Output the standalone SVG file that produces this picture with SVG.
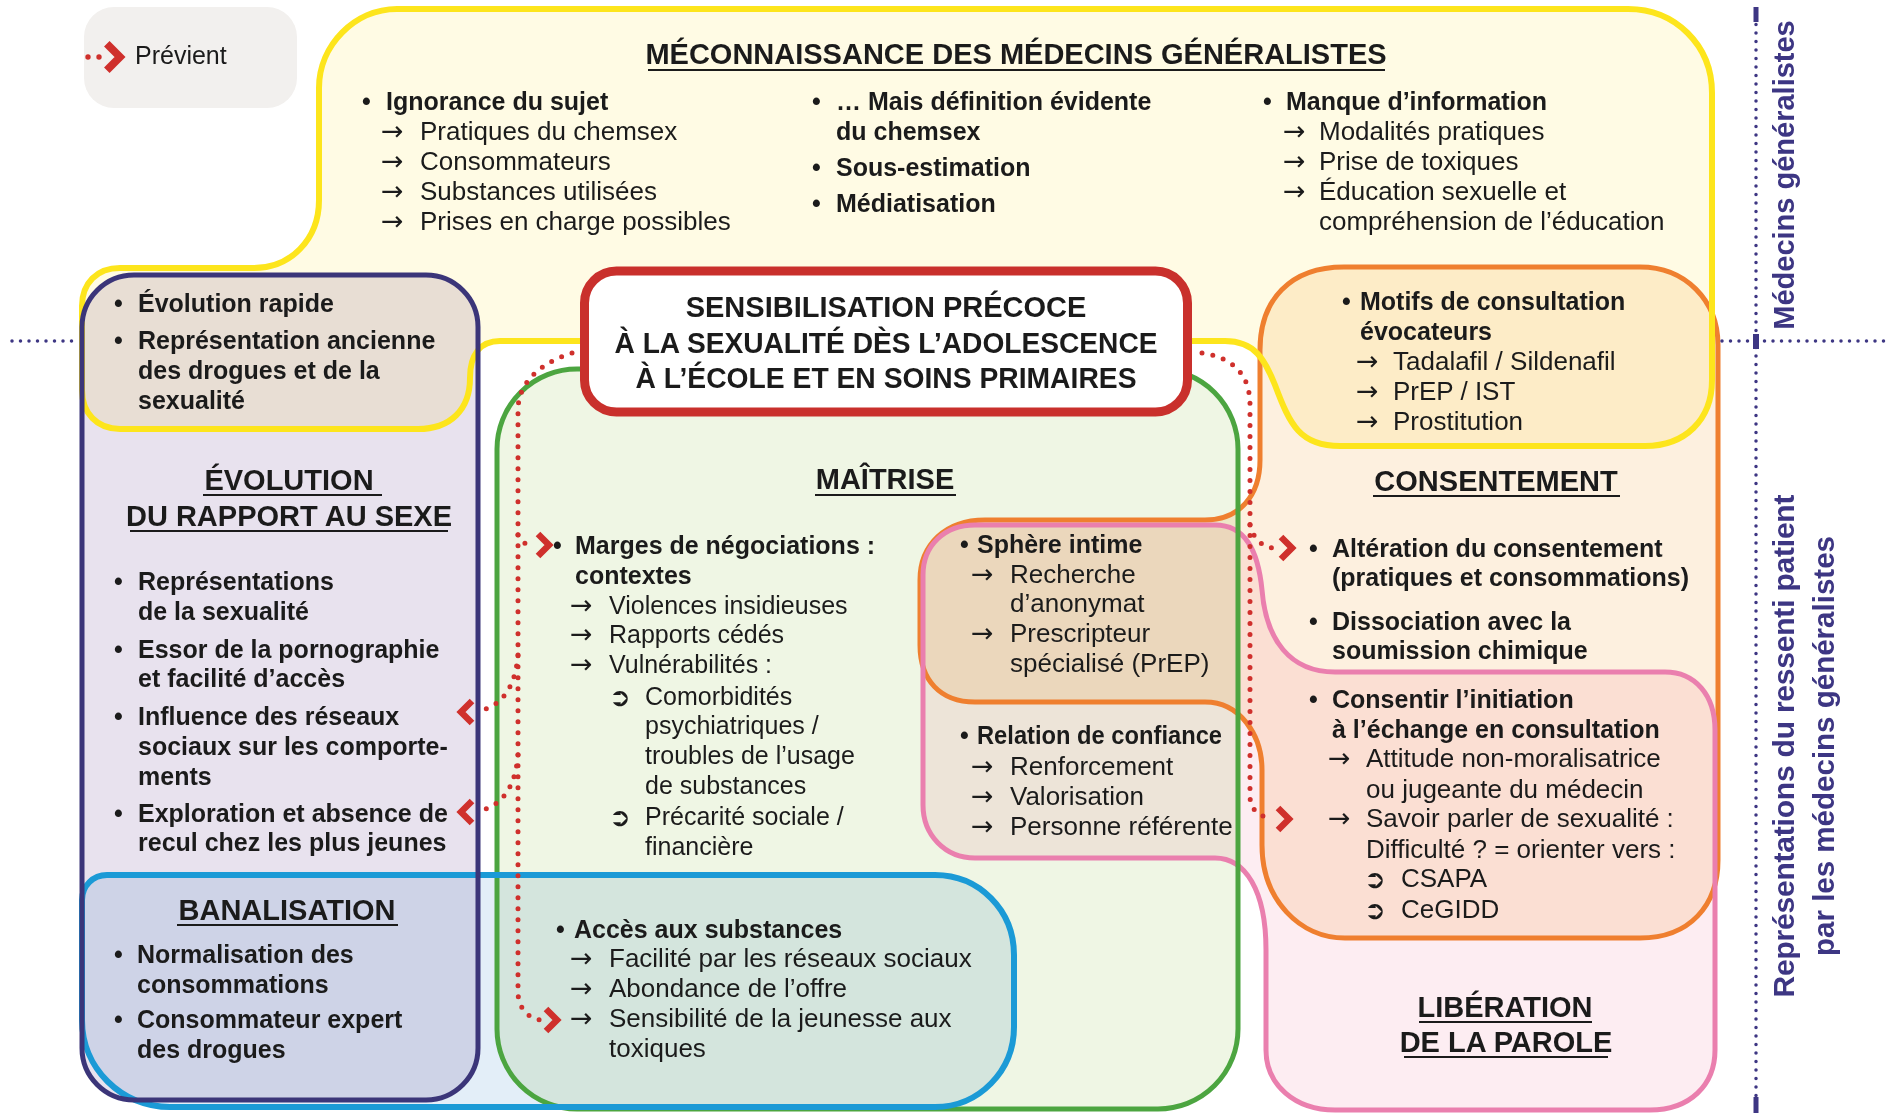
<svg xmlns="http://www.w3.org/2000/svg" xmlns:xlink="http://www.w3.org/1999/xlink" width="1888" height="1113" viewBox="0 0 1888 1113">
<style>
.t{font-family:"Liberation Sans",Arial,Helvetica,sans-serif;fill:#1b1b1b}
.b{font-weight:700;font-size:25px}
.r{font-size:26px}
.rm{font-size:25px}
.h{font-weight:700;font-size:29px;text-anchor:middle}
.ar{font-family:"DejaVu Sans",sans-serif;font-size:27px;fill:#1b1b1b}
.s{font-family:"DejaVu Sans",sans-serif;font-size:26px;font-weight:700;fill:#1b1b1b}
.ul{stroke:#1b1b1b;stroke-width:2}
.dot{fill:none;stroke:#cf302c;stroke-width:5;stroke-linecap:round;stroke-dasharray:0 11}
.axd{stroke:#3d3683;stroke-width:3.5;stroke-linecap:round;stroke-dasharray:0 8.5}
.ax{font-family:"Liberation Sans",Arial,sans-serif;font-weight:700;fill:#3d3683;text-anchor:middle}
.fillm{mix-blend-mode:multiply}
.ol{fill:none}
</style>
<defs>
<path id="shp-yellow" d="M319,88 C319,45 355,9 397,9 H1628 C1675,9 1712,45 1712,93 V380 C1712,420 1685,446 1645,446 H1340 C1300,446 1290,425 1275,385 C1265,360 1255,341 1225,341 H500 C480,341 470,355 470,378 C470,410 450,429 418,429 H120 C97,429 82,413 82,390 V306 C82,283 97,268 120,268 H254 C290,268 319,240 319,200 Z"/>
<path id="shp-orange" d="M1260,350 C1260,300 1290,267 1344,267 H1640 C1685,267 1718,300 1718,345 V860 C1718,905 1690,938 1640,938 H1345 C1300,938 1262,900 1262,845 V770 C1262,735 1240,702 1205,702 H975 C940,702 920,680 920,645 V580 C920,545 945,520 985,520 H1205 C1240,520 1260,495 1260,460 Z"/>
<path id="shp-pink" d="M923,575 C923,545 945,525 975,525 H1215 C1245,525 1258,550 1262,590 C1266,640 1290,672 1335,672 H1665 C1695,672 1715,695 1715,730 V1050 C1715,1085 1690,1110 1650,1110 H1335 C1295,1110 1266,1085 1266,1050 V950 C1266,890 1245,858 1215,858 H975 C945,858 923,835 923,805 Z"/>
<rect id="shp-green" x="497" y="369" width="741" height="740" rx="80"/>
<path id="shp-blue" d="M82,900 C82,886 93,875 107,875 H935 C979,875 1014,910 1014,955 V1027 C1014,1071 979,1107 935,1107 H170 C121,1107 82,1068 82,1020 Z"/>
<rect id="shp-purple" x="82" y="275" width="396" height="825" rx="52"/>
<path id="chev" d="M-6,-11 L5,0 L-6,11" fill="none" stroke="#cf302c" stroke-width="6.5" stroke-linejoin="miter"/>
</defs>

<rect x="0" y="0" width="1888" height="1113" fill="#ffffff"/>

<g id="region-fills">
<use xlink:href="#shp-yellow" fill="#fffbe4" class="fillm"/>
<use xlink:href="#shp-orange" fill="#fdf0df" class="fillm"/>
<use xlink:href="#shp-pink" fill="#fdedf2" class="fillm"/>
<use xlink:href="#shp-green" fill="#eff6e4" class="fillm"/>
<use xlink:href="#shp-blue" fill="#e3eef8" class="fillm"/>
<use xlink:href="#shp-purple" fill="#e8e2ee" class="fillm"/>
</g>

<g id="legend">
<rect x="84" y="7" width="213" height="101" rx="30" fill="#f2f0ee"/>
<circle cx="88" cy="57" r="2.7" fill="#cf302c"/>
<circle cx="99" cy="57" r="2.7" fill="#cf302c"/>
<use xlink:href="#chev" transform="translate(114,57) scale(1.2)"/>
<text class="t" x="135" y="64" font-size="25">Prévient</text>
</g>

<g id="node-consentement">
<use xlink:href="#shp-orange" class="ol" stroke="#ef7f2f" stroke-width="5"/>
<text class="t b" x="1342" y="310">•</text><text class="t b" x="1360" y="310" font-size="24.5">Motifs de consultation</text>
<text class="t b" x="1360" y="340" font-size="24.5">évocateurs</text>
<text class="ar" x="1356" y="370">→</text><text class="t r" x="1393" y="370">Tadalafil / Sildenafil</text>
<text class="ar" x="1356" y="400">→</text><text class="t r" x="1393" y="400">PrEP / IST</text>
<text class="ar" x="1356" y="430">→</text><text class="t r" x="1393" y="430">Prostitution</text>
<text class="t h" x="1496" y="491">CONSENTEMENT</text>
<line class="ul" x1="1373" y1="496" x2="1620" y2="496"/>
<text class="t b" x="1309" y="557">•</text><text class="t b" x="1332" y="557">Altération du consentement</text>
<text class="t b" x="1332" y="586">(pratiques et consommations)</text>
<text class="t b" x="1309" y="630">•</text><text class="t b" x="1332" y="630">Dissociation avec la</text>
<text class="t b" x="1332" y="659">soumission chimique</text>
<text class="t b" x="1309" y="708">•</text><text class="t b" x="1332" y="708">Consentir l’initiation</text>
<text class="t b" x="1332" y="738">à l’échange en consultation</text>
<text class="ar" x="1328" y="767">→</text><text class="t r" x="1366" y="767">Attitude non-moralisatrice</text>
<text class="t r" x="1366" y="798">ou jugeante du médecin</text>
<text class="ar" x="1328" y="827">→</text><text class="t r" x="1366" y="827">Savoir parler de sexualité :</text>
<text class="t r" x="1366" y="858">Difficulté ? = orienter vers :</text>
<text class="s" x="1364" y="888">➲</text><text class="t r" x="1401" y="887">CSAPA</text>
<text class="s" x="1364" y="919">➲</text><text class="t r" x="1401" y="918">CeGIDD</text>
</g>

<g id="node-liberation">
<use xlink:href="#shp-pink" class="ol" stroke="#ea7fae" stroke-width="5"/>
<text class="t h" x="1505" y="1017" font-size="28">LIBÉRATION</text>
<line class="ul" x1="1419" y1="1022" x2="1592" y2="1022"/>
<text class="t h" x="1506" y="1052" font-size="28">DE LA PAROLE</text>
<line class="ul" x1="1404" y1="1057" x2="1608" y2="1057"/>
<text class="t b" x="960" y="553">•</text><text class="t b" x="977" y="553" font-size="24">Sphère intime</text>
<text class="ar" x="971" y="583">→</text><text class="t r" x="1010" y="583">Recherche</text>
<text class="t r" x="1010" y="612">d’anonymat</text>
<text class="ar" x="971" y="642">→</text><text class="t r" x="1010" y="642">Prescripteur</text>
<text class="t r" x="1010" y="672">spécialisé (PrEP)</text>
<text class="t b" x="960" y="744">•</text><text class="t b" x="977" y="744" font-size="24" textLength="245" lengthAdjust="spacingAndGlyphs">Relation de confiance</text>
<text class="ar" x="971" y="775">→</text><text class="t r" x="1010" y="775">Renforcement</text>
<text class="ar" x="971" y="805">→</text><text class="t r" x="1010" y="805">Valorisation</text>
<text class="ar" x="971" y="835">→</text><text class="t r" x="1010" y="835">Personne référente</text>
</g>

<g id="node-meconnaissance">
<use xlink:href="#shp-yellow" class="ol" stroke="#fde51c" stroke-width="6"/>
<text class="t h" x="1016" y="64">MÉCONNAISSANCE DES MÉDECINS GÉNÉRALISTES</text>
<line class="ul" x1="648" y1="70" x2="1385" y2="70"/>
<text class="t b" x="362" y="110">•</text><text class="t b" x="386" y="110">Ignorance du sujet</text>
<text class="ar" x="381" y="140">→</text><text class="t r" x="420" y="140">Pratiques du chemsex</text>
<text class="ar" x="381" y="170">→</text><text class="t r" x="420" y="170">Consommateurs</text>
<text class="ar" x="381" y="200">→</text><text class="t r" x="420" y="200">Substances utilisées</text>
<text class="ar" x="381" y="230">→</text><text class="t r" x="420" y="230">Prises en charge possibles</text>
<text class="t b" x="812" y="110">•</text><text class="t b" x="836" y="110">… Mais définition évidente</text>
<text class="t b" x="836" y="140">du chemsex</text>
<text class="t b" x="812" y="176">•</text><text class="t b" x="836" y="176">Sous-estimation</text>
<text class="t b" x="812" y="212">•</text><text class="t b" x="836" y="212">Médiatisation</text>
<text class="t b" x="1263" y="110">•</text><text class="t b" x="1286" y="110">Manque d’information</text>
<text class="ar" x="1283" y="140">→</text><text class="t r" x="1319" y="140">Modalités pratiques</text>
<text class="ar" x="1283" y="170">→</text><text class="t r" x="1319" y="170">Prise de toxiques</text>
<text class="ar" x="1283" y="200">→</text><text class="t r" x="1319" y="200">Éducation sexuelle et</text>
<text class="t r" x="1319" y="230">compréhension de l’éducation</text>
<text class="t b" x="114" y="312">•</text><text class="t b" x="138" y="312">Évolution rapide</text>
<text class="t b" x="114" y="349">•</text><text class="t b" x="138" y="349">Représentation ancienne</text>
<text class="t b" x="138" y="379">des drogues et de la</text>
<text class="t b" x="138" y="409">sexualité</text>
</g>

<g id="node-maitrise">
<use xlink:href="#shp-green" class="ol" stroke="#4ca540" stroke-width="5"/>
<text class="t h" x="885" y="489">MAÎTRISE</text>
<line class="ul" x1="815" y1="495" x2="956" y2="495"/>
<text class="t b" x="553" y="554">•</text><text class="t b" x="575" y="554">Marges de négociations :</text>
<text class="t b" x="575" y="584">contextes</text>
<text class="ar" x="570" y="614">→</text><text class="t rm" x="609" y="614">Violences insidieuses</text>
<text class="ar" x="570" y="643">→</text><text class="t rm" x="609" y="643">Rapports cédés</text>
<text class="ar" x="570" y="673">→</text><text class="t rm" x="609" y="673">Vulnérabilités :</text>
<text class="s" x="609" y="706">➲</text><text class="t rm" x="645" y="705">Comorbidités</text>
<text class="t rm" x="645" y="734">psychiatriques /</text>
<text class="t rm" x="645" y="764">troubles de l’usage</text>
<text class="t rm" x="645" y="794">de substances</text>
<text class="s" x="609" y="826">➲</text><text class="t rm" x="645" y="825">Précarité sociale /</text>
<text class="t rm" x="645" y="855">financière</text>
</g>

<g id="node-banalisation">
<use xlink:href="#shp-blue" class="ol" stroke="#1b9ad6" stroke-width="6"/>
<text class="t h" x="287" y="920" font-size="28">BANALISATION</text>
<line class="ul" x1="177" y1="925" x2="398" y2="925"/>
<text class="t b" x="114" y="963">•</text><text class="t b" x="137" y="963">Normalisation des</text>
<text class="t b" x="137" y="993">consommations</text>
<text class="t b" x="114" y="1028">•</text><text class="t b" x="137" y="1028">Consommateur expert</text>
<text class="t b" x="137" y="1058">des drogues</text>
<text class="t b" x="556" y="938">•</text><text class="t b" x="574" y="938">Accès aux substances</text>
<text class="ar" x="570" y="967">→</text><text class="t r" x="609" y="967">Facilité par les réseaux sociaux</text>
<text class="ar" x="570" y="997">→</text><text class="t r" x="609" y="997">Abondance de l’offre</text>
<text class="ar" x="570" y="1027">→</text><text class="t r" x="609" y="1027">Sensibilité de la jeunesse aux</text>
<text class="t r" x="609" y="1057">toxiques</text>
</g>

<g id="node-evolution">
<use xlink:href="#shp-purple" class="ol" stroke="#3b3579" stroke-width="5"/>
<text class="t h" x="289" y="490" font-size="28.5">ÉVOLUTION</text>
<line class="ul" x1="203" y1="495" x2="382" y2="495"/>
<text class="t h" x="289" y="526" font-size="28.5">DU RAPPORT AU SEXE</text>
<line class="ul" x1="130" y1="531" x2="448" y2="531"/>
<text class="t b" x="114" y="590">•</text><text class="t b" x="138" y="590">Représentations</text>
<text class="t b" x="138" y="620">de la sexualité</text>
<text class="t b" x="114" y="658">•</text><text class="t b" x="138" y="658">Essor de la pornographie</text>
<text class="t b" x="138" y="687">et facilité d’accès</text>
<text class="t b" x="114" y="725">•</text><text class="t b" x="138" y="725">Influence des réseaux</text>
<text class="t b" x="138" y="755">sociaux sur les comporte-</text>
<text class="t b" x="138" y="785">ments</text>
<text class="t b" x="114" y="822">•</text><text class="t b" x="138" y="822">Exploration et absence de</text>
<text class="t b" x="138" y="851">recul chez les plus jeunes</text>
</g>

<g id="node-sensibilisation">
<rect x="584.5" y="271" width="603" height="141" rx="32" fill="#ffffff" stroke="#c9302c" stroke-width="9"/>
<text class="t h" x="886" y="317" font-size="28">SENSIBILISATION PRÉCOCE</text>
<text class="t h" x="886" y="353" font-size="28" textLength="543" lengthAdjust="spacingAndGlyphs">À LA SEXUALITÉ DÈS L’ADOLESCENCE</text>
<text class="t h" x="886" y="388" font-size="28" textLength="501" lengthAdjust="spacingAndGlyphs">À L’ÉCOLE ET EN SOINS PRIMAIRES</text>
</g>

<g id="axis">
<line class="axd" x1="12" y1="341" x2="76" y2="341"/>
<line class="axd" x1="1722" y1="341" x2="1888" y2="341"/>
<line class="axd" x1="1756" y1="16" x2="1756" y2="1100"/>
<rect x="1753.5" y="7" width="5" height="15" fill="#3d3683"/>
<rect x="1753" y="334" width="6" height="15" fill="#3d3683"/>
<rect x="1753.5" y="1097" width="5" height="16" fill="#3d3683"/>
<text class="ax" transform="translate(1794,175) rotate(-90)" font-size="29">Médecins généralistes</text>
<text class="ax" transform="translate(1794,746) rotate(-90)" font-size="30" textLength="503" lengthAdjust="spacing">Représentations du ressenti patient</text>
<text class="ax" transform="translate(1834,746) rotate(-90)" font-size="30" textLength="420" lengthAdjust="spacingAndGlyphs">par les médecins généralistes</text>
</g>

<g id="connectors">
<path class="dot" d="M572,353 C540,363 518,383 518,410 V992 C518,1008 528,1018 540,1020"/>
<path class="dot" d="M518,535 C521,543 527,545 533,545"/>
<path class="dot" d="M518,655 C515,690 500,707 478,711"/>
<path class="dot" d="M518,755 C515,790 500,807 478,811"/>
<path class="dot" d="M1202,353 C1235,358 1250,376 1250,405 V796 C1250,809 1258,816 1270,818"/>
<path class="dot" d="M1250,525 C1254,540 1262,546 1273,548"/>
<use xlink:href="#chev" transform="translate(552,1020)"/>
<use xlink:href="#chev" transform="translate(544,545)"/>
<use xlink:href="#chev" transform="translate(466,712) rotate(180)"/>
<use xlink:href="#chev" transform="translate(466,812) rotate(180)"/>
<use xlink:href="#chev" transform="translate(1284,819)"/>
<use xlink:href="#chev" transform="translate(1287,548)"/>
</g>
</svg>
